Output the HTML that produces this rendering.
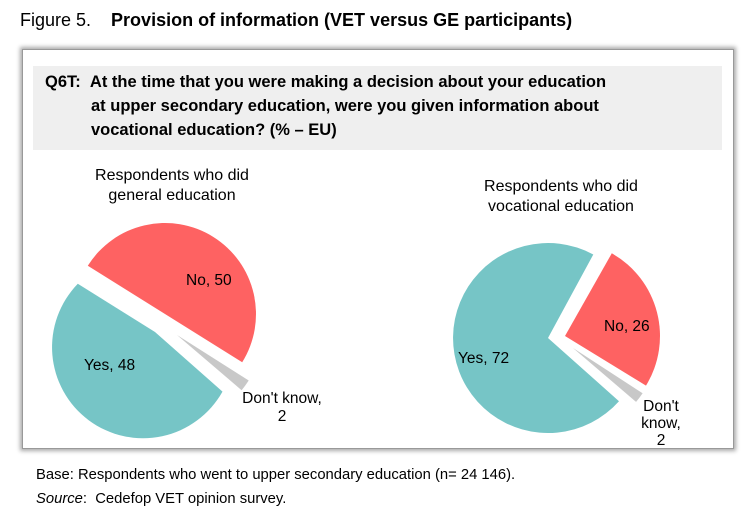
<!DOCTYPE html>
<html><head><style>
body{margin:0;width:750px;height:519px;background:#fff;font-family:"Liberation Sans",Arial,sans-serif;position:relative;overflow:hidden}
.t{position:absolute;white-space:nowrap;color:#000}
</style></head><body>
<div class="t" style="left:20px;top:10px;font-size:18px">Figure 5.&nbsp;&nbsp;&nbsp;&nbsp;<b>Provision of information (VET versus GE participants)</b></div>
<div style="position:absolute;left:22px;top:49px;width:710px;height:398px;border:1px solid #999;box-shadow:0 0 4px 2px #aaa;background:#fff"></div>
<div style="position:absolute;left:33px;top:66px;width:689px;height:84px;background:#efefef"></div>
<div class="t" style="left:45px;top:70px;font-size:16.5px;font-weight:bold;line-height:24px">Q6T:&nbsp;&nbsp;At the time that you were making a decision about your education<br><span style="padding-left:46px">at upper secondary education, were you given information about</span><br><span style="padding-left:46px">vocational education? (% – EU)</span></div>
<svg style="position:absolute;left:0;top:0" width="750" height="519">
<g font-family="Liberation Sans,Arial,sans-serif" font-size="16" fill="#000">
<text x="172" y="180" text-anchor="middle">Respondents who did</text>
<text x="172" y="200" text-anchor="middle">general education</text>
<text x="561" y="191" text-anchor="middle">Respondents who did</text>
<text x="561" y="211" text-anchor="middle">vocational education</text>
</g>
<path d="M155,332 L222.5,391.6 A91,91 0 1 1 77.8,283.8 Z" fill="#76c5c6"/>
<path d="M165,314 L87.8,265.8 A91,91 0 0 1 242.2,362.2 Z" fill="#fe6262"/>
<path d="M177,335 L248.7,380.5 A85,85 0 0 1 241.6,390.2 Z" fill="#c8c8c8"/>
<path d="M548,338 L619,401.2 A95,95 0 1 1 593.3,254.5 Z" fill="#76c5c6"/>
<path d="M565,336 L611.8,253.3 A95,95 0 0 1 646,385.6 Z" fill="#fe6262"/>
<path d="M573,348 L642.6,393.3 A83,83 0 0 1 636.1,401.9 Z" fill="#c8c8c8"/>
<g font-family="Liberation Sans,Arial,sans-serif" font-size="15.5" fill="#000">
<text x="186" y="285">No, 50</text>
<text x="84" y="370">Yes, 48</text>
<text x="282" y="403" text-anchor="middle">Don't know,</text>
<text x="282" y="421" text-anchor="middle">2</text>
<text x="604" y="331">No, 26</text>
<text x="458" y="363">Yes, 72</text>
<text x="661" y="411" text-anchor="middle">Don't</text>
<text x="661" y="428" text-anchor="middle">know,</text>
<text x="661" y="445" text-anchor="middle">2</text>
</g>
</svg>
<div class="t" style="left:36px;top:467px;font-size:14.8px">Base: Respondents who went to upper secondary education (n= 24 146).</div>
<div class="t" style="left:36px;top:491px;font-size:14.8px"><i>Source</i>:&nbsp; Cedefop VET opinion survey.</div>
</body></html>
